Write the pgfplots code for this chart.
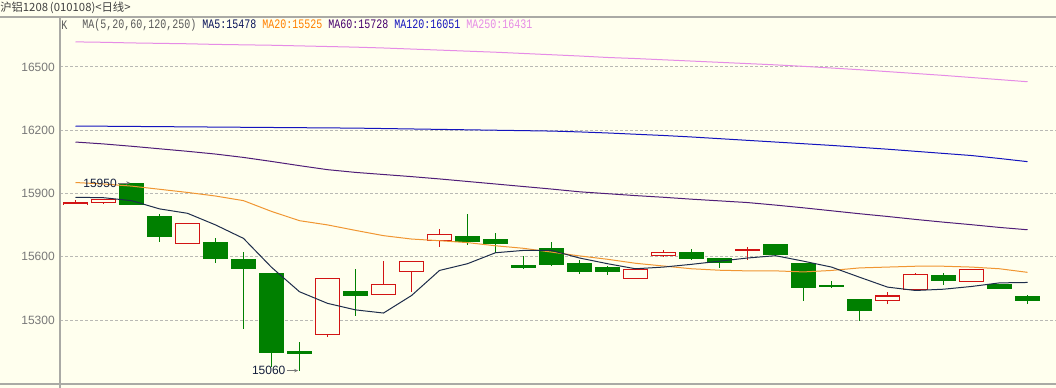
\documentclass[border=0pt]{standalone}
\usepackage{pgfplots}
\pgfplotsset{compat=1.18}
\usepackage{pgfplotstable}
\usepackage{graphicx}
\usepackage{fontspec}
\setmainfont{Liberation Sans}
\newfontfamily\cjk{Noto Sans CJK SC}
\newfontfamily\monof{Liberation Mono}
\usetikzlibrary{arrows.meta}
\definecolor{bg}{RGB}{255,255,238}
\definecolor{upred}{RGB}{210,20,20}
\definecolor{dngreen}{RGB}{0,128,0}
\definecolor{ma5c}{RGB}{30,45,75}
\definecolor{ma5t}{RGB}{10,20,90}
\definecolor{ma20c}{RGB}{240,150,50}
\definecolor{ma20t}{RGB}{255,128,0}
\definecolor{ma60c}{RGB}{80,30,120}
\definecolor{ma60t}{RGB}{70,0,110}
\definecolor{ma120c}{RGB}{20,20,190}
\definecolor{ma250c}{RGB}{230,140,230}
\definecolor{framec}{RGB}{170,170,165}
\definecolor{gridc}{RGB}{185,185,180}
\definecolor{tickc}{RGB}{120,120,120}
\definecolor{legc}{RGB}{90,90,90}
\definecolor{hdr}{RGB}{64,64,64}
\definecolor{annot}{RGB}{20,30,60}

\pgfplotstableread{
x o h l c
0 15849 15871 15849 15855
1 15857 15871 15852 15871
4 15662 15757 15662 15757
9 15229 15495 15218 15495
11 15419 15578 15419 15467
12 15529 15576 15432 15576
13 15675 15730 15646 15705
20 15495 15546 15495 15540
21 15608 15630 15598 15621
24 15632 15644 15586 15635
29 15391 15433 15375 15414
30 15443 15521 15443 15514
32 15481 15538 15481 15538
}\upcandles

\pgfplotstableread{
x o h l c
2 15948 15950 15846 15846
3 15792 15803 15670 15694
5 15668 15687 15570 15589
6 15587 15621 15256 15541
7 15521 15521 15075 15145
8 15150 15197 15060 15140
10 15435 15540 15318 15413
14 15697 15803 15654 15670
15 15683 15713 15619 15660
16 15559 15603 15541 15549
17 15640 15670 15554 15560
18 15568 15584 15519 15527
19 15549 15557 15513 15527
22 15621 15635 15583 15589
23 15592 15592 15546 15573
25 15659 15659 15608 15608
26 15568 15568 15389 15451
27 15464 15487 15452 15456
28 15397 15397 15294 15346
31 15510 15525 15465 15484
33 15471 15471 15446 15446
34 15411 15418 15375 15389
}\downcandles

\pgfplotstableread{
x ma5 ma20 ma60 ma120 ma250
0 15882 15952 16144 16220 16619
1 15880 15945 16135 16219 16617
2 15866 15935 16124 16218 16614
3 15827 15920 16112 16217 16612
4 15806 15905 16100 16216 16610
5 15751 15888 16087 16215 16607
6 15687 15866 16071 16214 16605
7 15550 15815 16052 16213 16603
8 15434 15771 16032 16212 16600
9 15379 15751 16013 16211 16597
10 15348 15725 16000 16210 16594
11 15333 15700 15990 16208 16590
12 15416 15684 15980 16206 16585
13 15535 15676 15969 16204 16580
14 15567 15667 15957 16202 16575
15 15619 15652 15945 16200 16570
16 15630 15640 15933 16198 16564
17 15630 15622 15921 16196 16558
18 15594 15604 15908 16192 16552
19 15567 15588 15899 16187 16545
20 15543 15569 15890 16181 16540
21 15551 15556 15882 16175 16534
22 15564 15543 15873 16168 16528
23 15579 15536 15865 16160 16522
24 15594 15533 15857 16152 16516
25 15605 15533 15845 16144 16510
26 15579 15528 15832 16136 16503
27 15551 15535 15818 16128 16495
28 15503 15547 15804 16119 16487
29 15456 15551 15791 16110 16478
30 15440 15555 15777 16100 16469
31 15446 15555 15764 16090 16460
32 15459 15551 15752 16080 16450
33 15476 15543 15739 16066 16440
34 15478 15526 15728 16051 16430
}\mas

\begin{document}
\begin{tikzpicture}
\fill[bg] (0pt,0pt) rectangle (792pt,291pt);
\begin{axis}[
  at={(45pt,3pt)}, anchor=south west,
  scale only axis, width=747pt, height=275.25pt,
  xmin=-0.5536, xmax=35.018, ymin=14996.5, ymax=16737,
  axis line style={draw=none},
  xtick=\empty,
  ytick={15300,15600,15900,16200,16500},
  ymajorgrids,
  grid style={gridc, dash pattern=on 2.25pt off 1.5pt, line width=0.75pt},
  major tick length=0pt,
  scaled y ticks=false,
  yticklabel style={font=\fontsize{9}{10}\selectfont, text=tickc, anchor=east, inner sep=0pt, xshift=-3.75pt,
    /pgf/number format/1000 sep={}, /pgf/number format/assume math mode=true},
  candle/.style={draw=none, mark=none, forget plot,
    error bars/.cd, y dir=both, y explicit, error mark=none},
]
% wicks
\addplot[candle, error bar style={draw=upred, line width=0.75pt}]
  table[x=x, y expr={(\thisrow{h}+\thisrow{l})/2}, y error expr={(\thisrow{h}-\thisrow{l})/2}] {\upcandles};
\addplot[candle, error bar style={draw=dngreen, line width=0.75pt}]
  table[x=x, y expr={(\thisrow{h}+\thisrow{l})/2}, y error expr={(\thisrow{h}-\thisrow{l})/2}] {\downcandles};
% green bodies
\addplot[candle, error bar style={draw=dngreen, line width=18.4pt}]
  table[x=x, y expr={(\thisrow{o}+\thisrow{c})/2}, y error expr={(\thisrow{o}-\thisrow{c})/2+1.2}] {\downcandles};
% red bodies: outline then hollow inside
\addplot[candle, error bar style={draw=upred, line width=19.1pt}]
  table[x=x, y expr={(\thisrow{o}+\thisrow{c})/2}, y error expr={(\thisrow{c}-\thisrow{o})/2+2.37}] {\upcandles};
\addplot[candle, error bar style={draw=bg, line width=17.5pt}]
  table[x=x, y expr={(\thisrow{o}+\thisrow{c})/2}, y error expr={max((\thisrow{c}-\thisrow{o})/2-2.6,0)}] {\upcandles};
% moving averages
\addplot[ma250c, line width=0.75pt, mark=none] table[x=x, y=ma250] {\mas};
\addplot[ma120c, line width=0.75pt, mark=none] table[x=x, y=ma120] {\mas};
\addplot[ma60c, line width=0.75pt, mark=none] table[x=x, y=ma60] {\mas};
\addplot[ma20c, line width=0.75pt, mark=none] table[x=x, y=ma20] {\mas};
\addplot[ma5c, line width=0.75pt, mark=none] table[x=x, y=ma5] {\mas};
% annotations
\node[anchor=east, inner sep=0pt, text=annot, font=\fontsize{9}{10}\selectfont] at ([xshift=-10.9pt]axis cs:2,15950) {15950};
\draw[tickc, line width=0.6pt, -{Stealth[length=3pt,width=2.5pt]}] ([xshift=-10pt]axis cs:2,15950) -- ([xshift=-1pt]axis cs:2,15950);
\node[anchor=east, inner sep=0pt, text=annot, font=\fontsize{9}{10}\selectfont] at ([xshift=-10.4pt]axis cs:8,15060) {15060};
\draw[tickc, line width=0.6pt, -{Stealth[length=3pt,width=2.5pt]}] ([xshift=-9.5pt]axis cs:8,15060) -- ([xshift=-1pt]axis cs:8,15060);
\end{axis}
% frame lines
\draw[framec, line width=0.9pt] (0pt,278.25pt) -- (792pt,278.25pt);
\draw[framec, line width=0.9pt] (0pt,3pt) -- (792pt,3pt);
\draw[framec, line width=0.9pt] (45pt,0pt) -- (45pt,278.25pt);
% header and legend text
\node[anchor=west, inner sep=0pt, text=hdr, font=\cjk\fontsize{8.5}{9}\selectfont] at (0pt,285pt) {沪铝1208\,(010108)<日线>};
\node[anchor=west, inner sep=0pt, text=legc, font=\monof\fontsize{7.5}{8}\selectfont] at (45.75pt,272.25pt) {\scalebox{1}[1.3]{K}};
\node[anchor=west, inner sep=0pt, text=legc, font=\monof\fontsize{7.5}{8}\selectfont] at (61.5pt,272.25pt)
  {\scalebox{1}[1.3]{MA(5,20,60,120,250) \textcolor{ma5t}{MA5:15478} \textcolor{ma20t}{MA20:15525} \textcolor{ma60t}{MA60:15728} \textcolor{ma120c}{MA120:16051} \textcolor{ma250c}{MA250:16431}}};
\pgfresetboundingbox
\useasboundingbox (0pt,0pt) rectangle (792pt,291pt);
\end{tikzpicture}
\end{document}
